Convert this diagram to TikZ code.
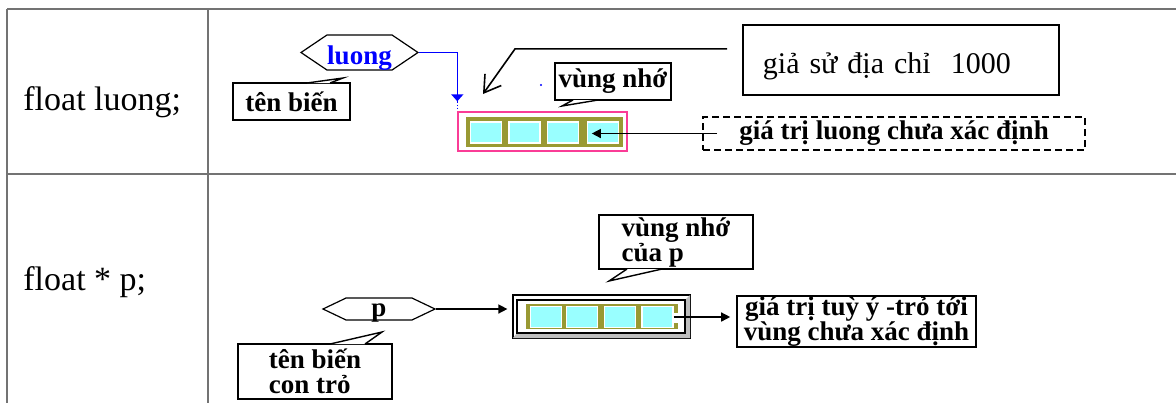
\documentclass[tikz,border=0pt]{standalone}
\usepackage{fontspec}
\setmainfont{Liberation Serif}
\usepackage{tikz}
\usetikzlibrary{positioning, arrows.meta, shapes.symbols}

\definecolor{cellcyan}{RGB}{153,255,255}
\definecolor{frameolive}{RGB}{153,153,51}
\definecolor{framepink}{RGB}{250,60,150}
\definecolor{bevelgray}{RGB}{190,190,190}

\begin{document}
\begin{tikzpicture}[x=0.5pt, y=-0.5pt,
    gridline/.style={black!55, line width=1pt},
    decl/.style={font=\fontsize{17}{20}\selectfont, anchor=base west, inner sep=0pt},
    note/.style={draw, line width=0.8pt, inner sep=0pt,
                 font=\fontsize{13.5}{12.5}\selectfont\bfseries},
    varname/.style={draw, line width=0.6pt, signal, signal to=west and east,
                    inner sep=0pt, text depth=0pt, font=\fontsize{13.5}{16}\selectfont\bfseries},
    cell/.style={draw=white, line width=0.7pt, fill=cellcyan,
                 minimum width=15.5pt, minimum height=10.5pt, inner sep=0pt},
    ptr/.style={-{Triangle[length=4.5pt, width=4.5pt]}, line width=0.7pt}
  ]
  \useasboundingbox (0,0) rectangle (1176,403);

  % table rules
  \draw[gridline] (7,9) -- (1176,9);
  \draw[gridline] (7,174) -- (1176,174);
  \draw[gridline] (7,9) -- (7,403);
  \draw[gridline] (208,9) -- (208,403);

  % declarations in the left column
  \node[decl] (decl1) at (23,110) {float luong;};
  \node[decl] (decl2) at (23,290) {float * p;};

  % ---------------- float luong ----------------
  % variable name
  \node[varname, text=blue, text height=12pt, minimum width=58.5pt, minimum height=17.5pt,
        signal pointer angle=68] (luong) at (359.5,52.5) {luong};
  \node[note, minimum width=58.5pt, minimum height=18.5pt] (tenbien) at (291.5,101.5) {tên biến};
  \draw[line width=0.7pt, fill=white] (307,83) -- (343,78) -- (330,83);

  % memory of luong: pink frame, olive bar, four cells
  \node[draw=framepink, line width=0.7pt, minimum width=84.5pt, minimum height=19.5pt,
        inner sep=0pt] (memA) at (542.5,131.5) {};
  \fill[frameolive] (466,117) rectangle (623,147);
  \node[cell] (a1) at (486,132.5) {};
  \node[cell] (a2) at (524.5,132.5) {};
  \node[cell] (a3) at (563,132.5) {};
  \node[cell] (a4) at (603,132.5) {};

  \node[note, minimum width=58pt, minimum height=18.5pt] (vungnho) at (613,81.5) {vùng nhớ};
  \draw[line width=0.7pt, fill=white] (573,100) -- (562,106) -- (598,100);
  \fill[blue] (541,85) circle (0.6pt);

  % the name points at the memory
  \coordinate (luongtip) at ([yshift=5pt]memA.north west);
  \draw[blue, line width=0.8pt, -{Triangle[length=3.5pt, width=6pt]}] (luong.east) -| (luongtip);
  \draw[blue, line width=0.6pt, densely dotted] (luongtip) -- ([yshift=1pt]memA.north west);

  % address of the memory
  \node[draw, line width=0.9pt, anchor=north west, inner xsep=10pt, inner ysep=0pt,
        text width=138pt, text height=24.5pt, text depth=10.5pt, align=left,
        font=\fontsize{15}{18}\selectfont] (addr) at (742,24) {giả sử địa chỉ~~1000};
  \coordinate (addrtip) at (483,94);
  \draw[line width=0.8pt, -{Straight Barb[length=8pt, width=10pt]}]
    ([xshift=-7.5pt, yshift=5.5pt]addr.west) -- ++(-212,0) -- (addrtip);

  % value not yet known
  \node[note, dashed, dash pattern=on 3.5pt off 2pt, minimum width=191pt,
        minimum height=16.5pt] (undef) at (894,133.5) {giá trị luong chưa xác định};
  \draw[ptr] ([xshift=7.5pt]undef.west) -- ([xshift=2.5pt]undef.west -| a4.west);

  % ---------------- float * p ----------------
  % variable name
  \node[varname, text height=7.5pt, minimum width=56pt, minimum height=11pt,
        signal pointer angle=51] (p) at (379,309) {p};
  \node[note, minimum width=77pt, minimum height=27.5pt, align=left] (tenbienp) at (315,371.5)
    {tên biến\\con trỏ};
  \draw[line width=0.7pt, fill=white] (330,344) -- (382,332) -- (365,344);

  % memory of p: bevelled frame, olive bar, four cells
  \node[draw, line width=0.6pt, fill=white, minimum width=88.5pt, minimum height=21.5pt,
        inner sep=0pt] (memB) at (601.5,316.5) {};
  \fill[bevelgray] (690,295) -- (690,338) -- (513,338) -- (517,333) -- (685,333) -- (685,300) -- cycle;
  \draw[line width=0.6pt] (517,300) rectangle (685,333);
  \fill[frameolive] (526,304) rectangle (678,329);
  \node[cell] (b1) at (546,317) {};
  \node[cell] (b2) at (582,317) {};
  \node[cell] (b3) at (620,317) {};
  \node[cell] (b4) at (657.5,317) {};
  \fill[white] (673,313) rectangle (679,323);

  \node[note, minimum width=77pt, minimum height=27pt, align=left] (vungnhop) at (676,242)
    {vùng nhớ\\của p};
  \draw[line width=0.7pt, fill=white] (627,269) -- (609,281) -- (662,269);

  % pointer value goes to an unknown place
  \node[note, minimum width=119.5pt, minimum height=25.5pt, align=center] (result) at (856.5,321.5)
    {giá trị tuỳ ý -trỏ tới\\vùng chưa xác định};

  \draw[ptr] (p.east) -- ([xshift=-2.5pt]p.east -| memB.west);
  \draw[ptr] (b4.east) -- ([xshift=-3pt]b4.east -| result.west);

\end{tikzpicture}
\end{document}
